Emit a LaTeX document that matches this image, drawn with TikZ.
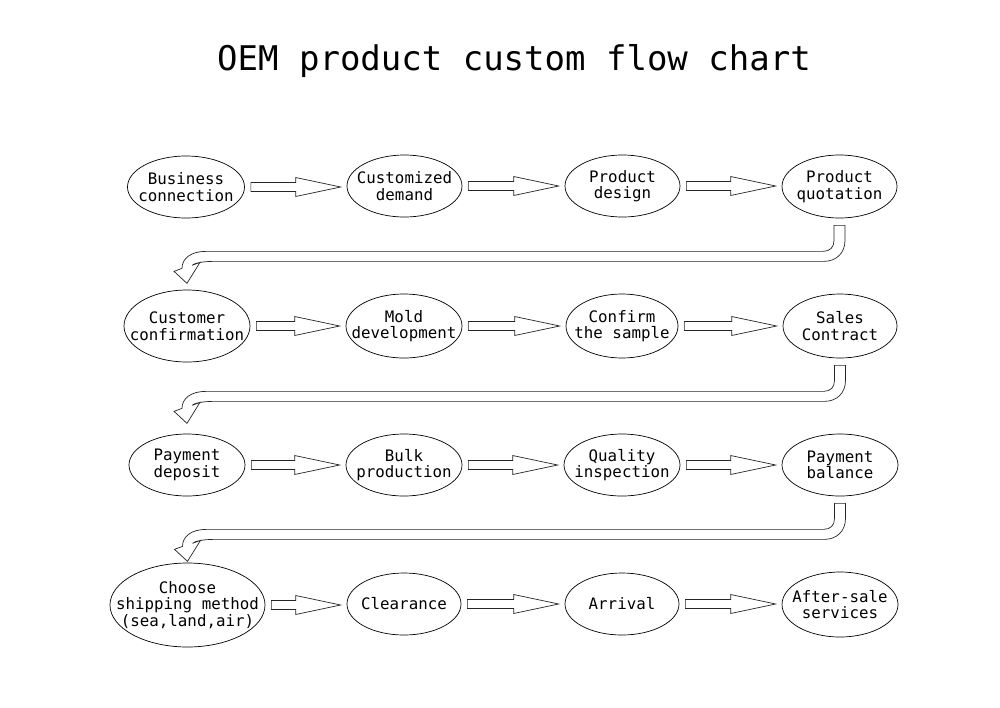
\documentclass[tikz,border=0pt]{standalone}
\usepackage{fontspec}
\newfontfamily\monofont{DejaVu Sans Mono}
\usetikzlibrary{shapes.geometric,calc}
\tikzset{
  oval/.style={ellipse, draw, line width=0.7pt, inner sep=0pt},
  lbl/.style={align=center, inner sep=0pt, font={\monofont\fontsize{15.8}{16.5}\selectfont}},
  blk/.style={draw=black!85, line width=0.7pt, line join=miter},
}
\newcommand\harrow[2]{%
  \draw[blk] let \p1=(#1.east), \p2=(#2.west) in
   (\x1+6pt,\y1+4.5pt) -- (\x2-51pt,\y1+4.5pt) -- (\x2-51pt,\y1+9.5pt) -- (\x2-6pt,\y1)
   -- (\x2-51pt,\y1-9.5pt) -- (\x2-51pt,\y1-4.5pt) -- (\x1+6pt,\y1-4.5pt) -- cycle;}
\newcommand\uturn[2]{%
  \draw[blk] let \p1=(#1.south), \p2=(#2.north) in
   (\x1-5.5pt,\y1-7pt) -- (\x1+5.5pt,\y1-7pt) -- (\x1+5.5pt,\y1-22pt)
   .. controls (\x1+5.5pt,\y1-35pt) and (\x1-3.5pt,\y1-43pt) .. (\x1-15.5pt,\y1-43pt)
   -- (\x2+27pt,\y1-43pt)
   .. controls (\x2+15pt,\y1-43pt) and (\x2+7pt,\y1-45pt) .. (\x2+5pt,\y1-47pt)
   -- (\x2+13pt,\y1-44pt) -- (\x2,\y1-65pt) -- (\x2-13pt,\y1-53pt) -- (\x2-5pt,\y1-50pt)
   .. controls (\x2-5pt,\y1-40pt) and (\x2+4pt,\y1-33pt) .. (\x2+19pt,\y1-33pt)
   -- (\x1-16.5pt,\y1-33pt)
   .. controls (\x1-9.5pt,\y1-33pt) and (\x1-5.5pt,\y1-29pt) .. (\x1-5.5pt,\y1-22pt) -- cycle;}
\begin{document}
\begin{tikzpicture}[x=1pt,y=-1pt]
\fill[white] (0,0) rectangle (1000,707);
\useasboundingbox (0,0) rectangle (1000,707);
\node[font={\monofont\fontsize{34}{40}\selectfont}] (title) at (514,61) {OEM product custom flow chart};
% row 1
\node[oval, minimum width=117pt, minimum height=62pt, label={[lbl]center:Business\\connection}] (n1) at (186,187) {};
\node[oval, minimum width=115pt, minimum height=62pt, label={[lbl]center:Customized\\demand}] (n2) at (404.5,186) {};
\node[oval, minimum width=115pt, minimum height=62pt, label={[lbl]center:Product\\design}] (n3) at (622.5,186) {};
\node[oval, minimum width=115pt, minimum height=63pt, label={[lbl]center:Product\\quotation}] (n4) at (839.5,186.5) {};
% row 2
\node[oval, minimum width=126pt, minimum height=72pt, label={[lbl]center:Customer\\confirmation}] (n5) at (187,326) {};
\node[oval, minimum width=116pt, minimum height=64pt, label={[lbl]center:Mold\\development}] (n6) at (404,326) {};
\node[oval, minimum width=112pt, minimum height=64pt, label={[lbl]center:Confirm\\the sample}] (n7) at (622,326) {};
\node[oval, minimum width=114pt, minimum height=64pt, label={[lbl]center:Sales\\Contract}] (n8) at (840,326) {};
% row 3
\node[oval, minimum width=116pt, minimum height=62pt, label={[lbl]center:Payment\\deposit}] (n9) at (187,465) {};
\node[oval, minimum width=116pt, minimum height=62pt, label={[lbl]center:Bulk\\production}] (n10) at (404,465) {};
\node[oval, minimum width=116pt, minimum height=62pt, label={[lbl]center:Quality\\inspection}] (n11) at (622,465) {};
\node[oval, minimum width=116pt, minimum height=62pt, label={[lbl]center:Payment\\balance}] (n12) at (840,465) {};
% row 4
\node[oval, minimum width=155pt, minimum height=84pt, label={[lbl]center:Choose\\shipping method\\(sea,land,air)}] (n13) at (187.5,605) {};
\node[oval, minimum width=114pt, minimum height=62pt, label={[lbl]center:Clearance}] (n14) at (404,604) {};
\node[oval, minimum width=114pt, minimum height=62pt, label={[lbl]center:Arrival}] (n15) at (622,604) {};
\node[oval, minimum width=116pt, minimum height=65pt, label={[lbl]center:After-sale\\services}] (n16) at (840,604.5) {};
% connectors
\harrow{n1}{n2}\harrow{n2}{n3}\harrow{n3}{n4}
\harrow{n5}{n6}\harrow{n6}{n7}\harrow{n7}{n8}
\harrow{n9}{n10}\harrow{n10}{n11}\harrow{n11}{n12}
\harrow{n13}{n14}\harrow{n14}{n15}\harrow{n15}{n16}
\uturn{n4}{n5}
\uturn{n8}{n9}
\uturn{n12}{n13}
\end{tikzpicture}
\end{document}
